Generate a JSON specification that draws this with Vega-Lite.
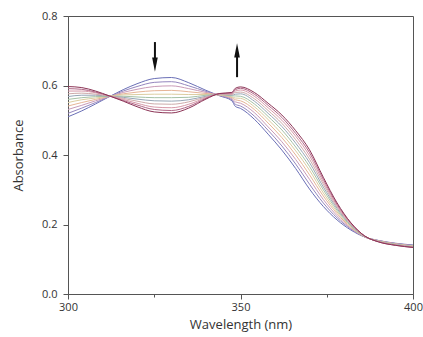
{
  "$schema": "https://vega.github.io/schema/vega-lite/v6.json",
  "autosize": "none",
  "width": 345,
  "height": 278,
  "padding": {"left": 68, "top": 16, "right": 10, "bottom": 43},
  "background": "white",
  "config": {
    "view": {"stroke": "#555", "strokeWidth": 1},
    "font": "Open Sans",
    "axis": {"domainColor": "#555", "tickColor": "#555", "labelColor": "#333", "titleColor": "#333", "labelFontSize": 11, "titleFontSize": 13, "titleFontWeight": "normal", "grid": false}
  },
  "datasets": {
    "spectra": [
      {"w":300,"s":1,"a":0.510},{"w":300,"s":2,"a":0.520},{"w":300,"s":3,"a":0.531},{"w":300,"s":4,"a":0.541},{"w":300,"s":5,"a":0.551},{"w":300,"s":6,"a":0.560},{"w":300,"s":7,"a":0.568},{"w":300,"s":8,"a":0.576},{"w":300,"s":9,"a":0.584},{"w":300,"s":10,"a":0.591},{"w":300,"s":11,"a":0.597},
      {"w":304,"s":1,"a":0.527},{"w":304,"s":2,"a":0.535},{"w":304,"s":3,"a":0.543},{"w":304,"s":4,"a":0.551},{"w":304,"s":5,"a":0.559},{"w":304,"s":6,"a":0.565},{"w":304,"s":7,"a":0.572},{"w":304,"s":8,"a":0.578},{"w":304,"s":9,"a":0.584},{"w":304,"s":10,"a":0.589},{"w":304,"s":11,"a":0.594},
      {"w":308,"s":1,"a":0.547},{"w":308,"s":2,"a":0.551},{"w":308,"s":3,"a":0.556},{"w":308,"s":4,"a":0.560},{"w":308,"s":5,"a":0.564},{"w":308,"s":6,"a":0.568},{"w":308,"s":7,"a":0.572},{"w":308,"s":8,"a":0.575},{"w":308,"s":9,"a":0.579},{"w":308,"s":10,"a":0.581},{"w":308,"s":11,"a":0.584},
      {"w":312,"s":1,"a":0.568},{"w":312,"s":2,"a":0.568},{"w":312,"s":3,"a":0.568},{"w":312,"s":4,"a":0.569},{"w":312,"s":5,"a":0.569},{"w":312,"s":6,"a":0.569},{"w":312,"s":7,"a":0.569},{"w":312,"s":8,"a":0.570},{"w":312,"s":9,"a":0.570},{"w":312,"s":10,"a":0.570},{"w":312,"s":11,"a":0.570},
      {"w":316,"s":1,"a":0.588},{"w":316,"s":2,"a":0.584},{"w":316,"s":3,"a":0.580},{"w":316,"s":4,"a":0.576},{"w":316,"s":5,"a":0.573},{"w":316,"s":6,"a":0.569},{"w":316,"s":7,"a":0.566},{"w":316,"s":8,"a":0.563},{"w":316,"s":9,"a":0.560},{"w":316,"s":10,"a":0.557},{"w":316,"s":11,"a":0.555},
      {"w":320,"s":1,"a":0.605},{"w":320,"s":2,"a":0.597},{"w":320,"s":3,"a":0.589},{"w":320,"s":4,"a":0.581},{"w":320,"s":5,"a":0.574},{"w":320,"s":6,"a":0.567},{"w":320,"s":7,"a":0.561},{"w":320,"s":8,"a":0.555},{"w":320,"s":9,"a":0.549},{"w":320,"s":10,"a":0.544},{"w":320,"s":11,"a":0.539},
      {"w":325,"s":1,"a":0.620},{"w":325,"s":2,"a":0.609},{"w":325,"s":3,"a":0.597},{"w":325,"s":4,"a":0.585},{"w":325,"s":5,"a":0.575},{"w":325,"s":6,"a":0.565},{"w":325,"s":7,"a":0.556},{"w":325,"s":8,"a":0.547},{"w":325,"s":9,"a":0.538},{"w":325,"s":10,"a":0.531},{"w":325,"s":11,"a":0.524},
      {"w":330,"s":1,"a":0.623},{"w":330,"s":2,"a":0.611},{"w":330,"s":3,"a":0.599},{"w":330,"s":4,"a":0.586},{"w":330,"s":5,"a":0.575},{"w":330,"s":6,"a":0.565},{"w":330,"s":7,"a":0.555},{"w":330,"s":8,"a":0.546},{"w":330,"s":9,"a":0.536},{"w":330,"s":10,"a":0.528},{"w":330,"s":11,"a":0.521},
      {"w":335,"s":1,"a":0.608},{"w":335,"s":2,"a":0.599},{"w":335,"s":3,"a":0.591},{"w":335,"s":4,"a":0.582},{"w":335,"s":5,"a":0.574},{"w":335,"s":6,"a":0.566},{"w":335,"s":7,"a":0.559},{"w":335,"s":8,"a":0.553},{"w":335,"s":9,"a":0.546},{"w":335,"s":10,"a":0.540},{"w":335,"s":11,"a":0.535},
      {"w":340,"s":1,"a":0.586},{"w":340,"s":2,"a":0.583},{"w":340,"s":3,"a":0.580},{"w":340,"s":4,"a":0.577},{"w":340,"s":5,"a":0.574},{"w":340,"s":6,"a":0.572},{"w":340,"s":7,"a":0.569},{"w":340,"s":8,"a":0.567},{"w":340,"s":9,"a":0.565},{"w":340,"s":10,"a":0.563},{"w":340,"s":11,"a":0.561},
      {"w":344,"s":1,"a":0.570},{"w":344,"s":2,"a":0.571},{"w":344,"s":3,"a":0.572},{"w":344,"s":4,"a":0.573},{"w":344,"s":5,"a":0.573},{"w":344,"s":6,"a":0.574},{"w":344,"s":7,"a":0.575},{"w":344,"s":8,"a":0.575},{"w":344,"s":9,"a":0.576},{"w":344,"s":10,"a":0.577},{"w":344,"s":11,"a":0.577},
      {"w":347.5,"s":1,"a":0.556},{"w":347.5,"s":2,"a":0.559},{"w":347.5,"s":3,"a":0.562},{"w":347.5,"s":4,"a":0.565},{"w":347.5,"s":5,"a":0.567},{"w":347.5,"s":6,"a":0.570},{"w":347.5,"s":7,"a":0.572},{"w":347.5,"s":8,"a":0.574},{"w":347.5,"s":9,"a":0.576},{"w":347.5,"s":10,"a":0.578},{"w":347.5,"s":11,"a":0.580},
      {"w":348.5,"s":1,"a":0.540},{"w":348.5,"s":2,"a":0.546},{"w":348.5,"s":3,"a":0.553},{"w":348.5,"s":4,"a":0.559},{"w":348.5,"s":5,"a":0.564},{"w":348.5,"s":6,"a":0.570},{"w":348.5,"s":7,"a":0.575},{"w":348.5,"s":8,"a":0.580},{"w":348.5,"s":9,"a":0.584},{"w":348.5,"s":10,"a":0.588},{"w":348.5,"s":11,"a":0.592},
      {"w":350,"s":1,"a":0.534},{"w":350,"s":2,"a":0.541},{"w":350,"s":3,"a":0.549},{"w":350,"s":4,"a":0.556},{"w":350,"s":5,"a":0.563},{"w":350,"s":6,"a":0.569},{"w":350,"s":7,"a":0.576},{"w":350,"s":8,"a":0.581},{"w":350,"s":9,"a":0.587},{"w":350,"s":10,"a":0.592},{"w":350,"s":11,"a":0.596},
      {"w":354,"s":1,"a":0.503},{"w":354,"s":2,"a":0.512},{"w":354,"s":3,"a":0.522},{"w":354,"s":4,"a":0.531},{"w":354,"s":5,"a":0.539},{"w":354,"s":6,"a":0.547},{"w":354,"s":7,"a":0.555},{"w":354,"s":8,"a":0.562},{"w":354,"s":9,"a":0.569},{"w":354,"s":10,"a":0.575},{"w":354,"s":11,"a":0.580},
      {"w":358,"s":1,"a":0.460},{"w":358,"s":2,"a":0.471},{"w":358,"s":3,"a":0.481},{"w":358,"s":4,"a":0.492},{"w":358,"s":5,"a":0.502},{"w":358,"s":6,"a":0.511},{"w":358,"s":7,"a":0.520},{"w":358,"s":8,"a":0.528},{"w":358,"s":9,"a":0.536},{"w":358,"s":10,"a":0.543},{"w":358,"s":11,"a":0.549},
      {"w":362,"s":1,"a":0.414},{"w":362,"s":2,"a":0.426},{"w":362,"s":3,"a":0.438},{"w":362,"s":4,"a":0.450},{"w":362,"s":5,"a":0.461},{"w":362,"s":6,"a":0.472},{"w":362,"s":7,"a":0.482},{"w":362,"s":8,"a":0.491},{"w":362,"s":9,"a":0.500},{"w":362,"s":10,"a":0.508},{"w":362,"s":11,"a":0.515},
      {"w":366,"s":1,"a":0.361},{"w":366,"s":2,"a":0.374},{"w":366,"s":3,"a":0.387},{"w":366,"s":4,"a":0.400},{"w":366,"s":5,"a":0.412},{"w":366,"s":6,"a":0.423},{"w":366,"s":7,"a":0.434},{"w":366,"s":8,"a":0.444},{"w":366,"s":9,"a":0.454},{"w":366,"s":10,"a":0.462},{"w":366,"s":11,"a":0.470},
      {"w":370,"s":1,"a":0.302},{"w":370,"s":2,"a":0.316},{"w":370,"s":3,"a":0.330},{"w":370,"s":4,"a":0.343},{"w":370,"s":5,"a":0.356},{"w":370,"s":6,"a":0.367},{"w":370,"s":7,"a":0.378},{"w":370,"s":8,"a":0.388},{"w":370,"s":9,"a":0.398},{"w":370,"s":10,"a":0.407},{"w":370,"s":11,"a":0.415},
      {"w":374,"s":1,"a":0.252},{"w":374,"s":2,"a":0.262},{"w":374,"s":3,"a":0.272},{"w":374,"s":4,"a":0.282},{"w":374,"s":5,"a":0.291},{"w":374,"s":6,"a":0.300},{"w":374,"s":7,"a":0.308},{"w":374,"s":8,"a":0.316},{"w":374,"s":9,"a":0.323},{"w":374,"s":10,"a":0.330},{"w":374,"s":11,"a":0.336},
      {"w":378,"s":1,"a":0.213},{"w":378,"s":2,"a":0.219},{"w":378,"s":3,"a":0.225},{"w":378,"s":4,"a":0.231},{"w":378,"s":5,"a":0.236},{"w":378,"s":6,"a":0.241},{"w":378,"s":7,"a":0.246},{"w":378,"s":8,"a":0.250},{"w":378,"s":9,"a":0.254},{"w":378,"s":10,"a":0.258},{"w":378,"s":11,"a":0.262},
      {"w":382,"s":1,"a":0.184},{"w":382,"s":2,"a":0.187},{"w":382,"s":3,"a":0.189},{"w":382,"s":4,"a":0.192},{"w":382,"s":5,"a":0.194},{"w":382,"s":6,"a":0.196},{"w":382,"s":7,"a":0.198},{"w":382,"s":8,"a":0.200},{"w":382,"s":9,"a":0.202},{"w":382,"s":10,"a":0.204},{"w":382,"s":11,"a":0.205},
      {"w":386,"s":1,"a":0.164},{"w":386,"s":2,"a":0.164},{"w":386,"s":3,"a":0.164},{"w":386,"s":4,"a":0.165},{"w":386,"s":5,"a":0.165},{"w":386,"s":6,"a":0.165},{"w":386,"s":7,"a":0.166},{"w":386,"s":8,"a":0.166},{"w":386,"s":9,"a":0.166},{"w":386,"s":10,"a":0.167},{"w":386,"s":11,"a":0.167},
      {"w":390,"s":1,"a":0.154},{"w":390,"s":2,"a":0.154},{"w":390,"s":3,"a":0.153},{"w":390,"s":4,"a":0.153},{"w":390,"s":5,"a":0.152},{"w":390,"s":6,"a":0.152},{"w":390,"s":7,"a":0.151},{"w":390,"s":8,"a":0.151},{"w":390,"s":9,"a":0.151},{"w":390,"s":10,"a":0.150},{"w":390,"s":11,"a":0.150},
      {"w":395,"s":1,"a":0.146},{"w":395,"s":2,"a":0.145},{"w":395,"s":3,"a":0.145},{"w":395,"s":4,"a":0.144},{"w":395,"s":5,"a":0.143},{"w":395,"s":6,"a":0.143},{"w":395,"s":7,"a":0.142},{"w":395,"s":8,"a":0.141},{"w":395,"s":9,"a":0.141},{"w":395,"s":10,"a":0.140},{"w":395,"s":11,"a":0.140},
      {"w":400,"s":1,"a":0.141},{"w":400,"s":2,"a":0.140},{"w":400,"s":3,"a":0.139},{"w":400,"s":4,"a":0.138},{"w":400,"s":5,"a":0.138},{"w":400,"s":6,"a":0.137},{"w":400,"s":7,"a":0.136},{"w":400,"s":8,"a":0.136},{"w":400,"s":9,"a":0.135},{"w":400,"s":10,"a":0.134},{"w":400,"s":11,"a":0.134}
    ],
    "shafts": [
      {"x": 325.2, "y": 0.725, "y2": 0.665},
      {"x": 349.0, "y": 0.624, "y2": 0.695}
    ],
    "headsDown": [{"x": 325.2, "y": 0.660}],
    "headsUp": [{"x": 349.0, "y": 0.701}]
  },
  "layer": [
    {
      "data": {"name": "spectra"},
      "mark": {"type": "line", "strokeWidth": 1, "interpolate": "monotone", "clip": true},
      "encoding": {
        "x": {"field": "w", "type": "quantitative", "scale": {"domain": [300, 400], "nice": false, "zero": false},
          "axis": {"title": "Wavelength (nm)", "values": [300, 325, 350, 375, 400], "labelExpr": "datum.value % 50 === 0 ? datum.label : ''",
            "tickSize": {"condition": {"test": "datum.value % 50 === 0", "value": 5}, "value": 3}, "labelPadding": 2, "titlePadding": 6, "labelFlush": false}},
        "y": {"field": "a", "type": "quantitative", "scale": {"domain": [0, 0.8], "nice": false},
          "axis": {"title": "Absorbance", "values": [0, 0.1, 0.2, 0.3, 0.4, 0.5, 0.6, 0.7, 0.8], "format": ".1f",
            "labelExpr": "round(datum.value * 10) % 2 === 0 ? datum.label : ''",
            "tickSize": {"condition": {"test": "round(datum.value * 10) % 2 === 0", "value": 5}, "value": 3}, "labelPadding": 6, "titlePadding": 16}},
        "color": {"field": "s", "type": "nominal", "legend": null,
          "scale": {"domain": [1,2,3,4,5,6,7,8,9,10,11], "range": ["#6a6fb6", "#9486be", "#c99bb8", "#e6b496", "#dccda0", "#a6c2a6", "#97a6b6", "#cdaaaa", "#d898a8", "#b06686", "#8c3456"]}},
        "order": {"field": "s", "type": "quantitative"},
        "detail": {"field": "s"}
      }
    },
    {
      "data": {"name": "shafts"},
      "mark": {"type": "rule", "color": "#111", "strokeWidth": 2},
      "encoding": {
        "x": {"field": "x", "type": "quantitative"},
        "y": {"field": "y", "type": "quantitative"},
        "y2": {"field": "y2"}
      }
    },
    {
      "data": {"name": "headsDown"},
      "mark": {"type": "point", "filled": true, "color": "#111", "opacity": 1, "size": 200, "shape": "M-0.4,-1L0.4,-1L0,1Z"},
      "encoding": {
        "x": {"field": "x", "type": "quantitative"},
        "y": {"field": "y", "type": "quantitative"}
      }
    },
    {
      "data": {"name": "headsUp"},
      "mark": {"type": "point", "filled": true, "color": "#111", "opacity": 1, "size": 200, "shape": "M-0.4,1L0.4,1L0,-1Z"},
      "encoding": {
        "x": {"field": "x", "type": "quantitative"},
        "y": {"field": "y", "type": "quantitative"}
      }
    }
  ]
}
